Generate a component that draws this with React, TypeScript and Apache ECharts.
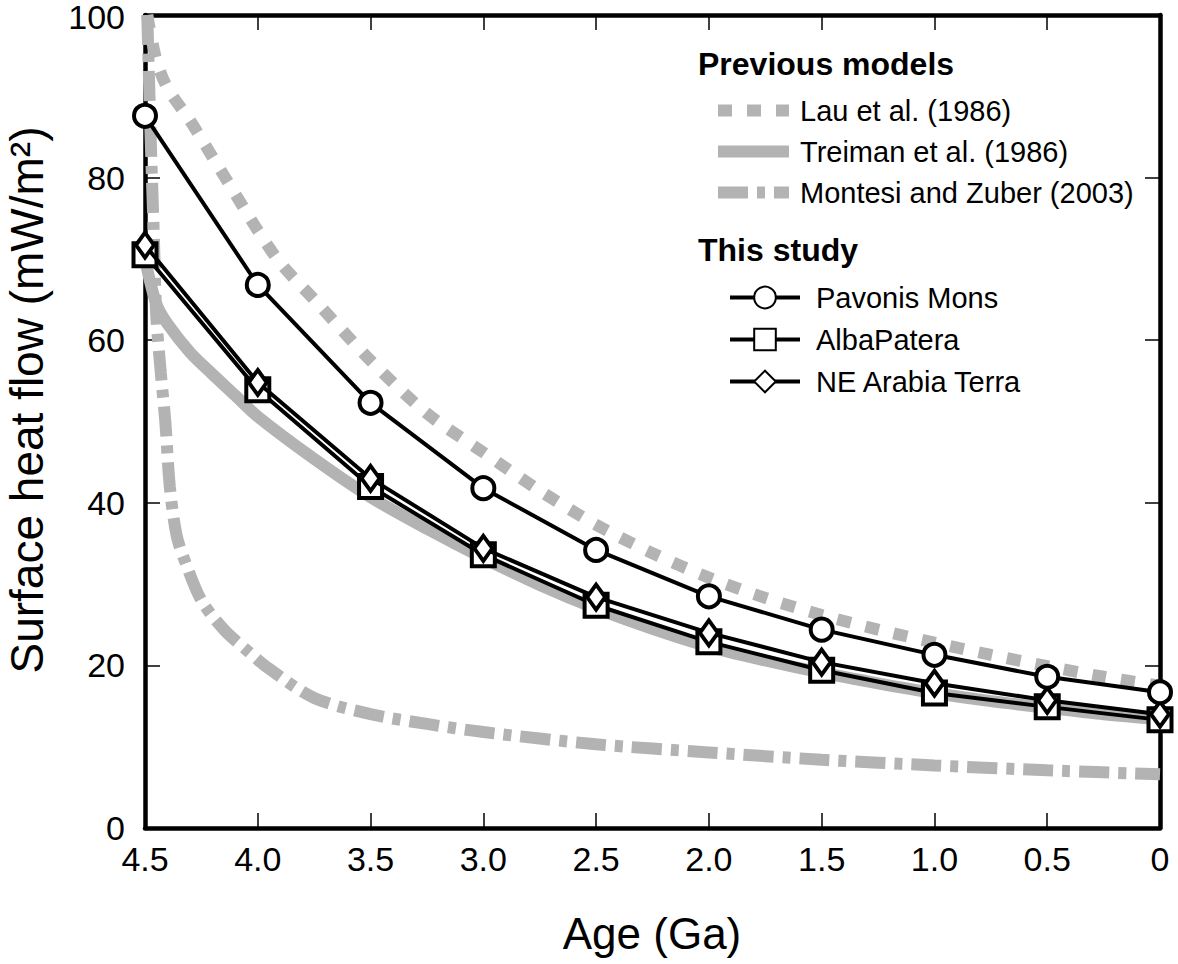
import React, { useEffect, useRef } from "react";
import * as echarts from "echarts";

// ---- data ----
const AGES = [4.5, 4.0, 3.5, 3.0, 2.5, 2.0, 1.5, 1.0, 0.5, 0];
const PAVONIS = [87.6, 66.8, 52.3, 41.8, 34.2, 28.5, 24.4, 21.3, 18.6, 16.7];
const ALBA = [70.5, 53.9, 42.0, 33.6, 27.4, 22.9, 19.4, 16.6, 14.9, 13.3];
const NE_ARABIA = [71.7, 54.8, 43.0, 34.4, 28.4, 24.0, 20.4, 17.8, 15.7, 14.0];

const LAU_AGES = [4.49, 4.45, 4.4, 4.3, 4.2, 4.1, 4.0, 3.9, 3.75, 3.5, 3.25, 3.0, 2.75, 2.5, 2.25, 2.0, 1.75, 1.5, 1.25, 1.0, 0.75, 0.5, 0.25, 0];
const LAU_VALUES = [100, 94.5, 91, 87, 82.5, 78, 73.5, 69.5, 65, 57.5, 51, 46.2, 41.5, 37.3, 33.8, 30.8, 28.3, 26.2, 24.4, 22.8, 21.3, 19.9, 18.6, 17.5];

const TREIMAN_AGES = [4.5, 4.45, 4.4, 4.3, 4.2, 4.1, 4.0, 3.75, 3.5, 3.25, 3.0, 2.75, 2.5, 2.25, 2.0, 1.75, 1.5, 1.25, 1.0, 0.75, 0.5, 0.25, 0];
const TREIMAN_VALUES = [70, 64.5, 62, 58.5, 55.8, 53.2, 50.6, 45.4, 40.7, 36.8, 33.2, 29.9, 27, 24.5, 22.3, 20.6, 19.1, 17.8, 16.6, 15.6, 14.8, 14.0, 13.4];

const MONTESI_AGES = [4.49, 4.475, 4.46, 4.45, 4.43, 4.41, 4.39, 4.36, 4.32, 4.25, 4.15, 4.05, 3.95, 3.75, 3.5, 3.25, 3.0, 2.5, 2.0, 1.5, 1.0, 0.5, 0];
const MONTESI_VALUES = [100, 85, 72, 63, 56, 50, 42, 36, 32.6, 28, 24.4, 21.9, 19.6, 16.0, 14.0, 12.8, 11.8, 10.3, 9.3, 8.4, 7.7, 7.1, 6.6];

const Y_TICKS = [0, 20, 40, 60, 80, 100];

const FONT = "'Liberation Sans', Arial, Helvetica, sans-serif";
const GRAY = "#b3b3b3";

const pairs = (xs: number[], ys: number[]) => xs.map((x, i) => [x, ys[i]]);

export default function App() {
  const ref = useRef<HTMLDivElement>(null);

  useEffect(() => {
    if (!ref.current) return;
    const chart = echarts.init(ref.current, undefined, { renderer: "svg" });

    const axisCommon = {
      type: "value" as const,
      splitLine: { show: false },
      axisLine: { show: true, onZero: false, lineStyle: { color: "#000", width: 4.5 } },
    };

    const blackLine = { color: "#000", width: 4 };
    const markerStyle = { color: "#fff", borderColor: "#000", borderWidth: 4 };
    const hiddenSymbol = { opacity: 0, color: "transparent", borderWidth: 0 };
    const yMax = Y_TICKS[Y_TICKS.length - 1];

    chart.setOption({
      animation: false,
      backgroundColor: "#fff",
      textStyle: { fontFamily: FONT },
      grid: { left: 145, right: 18, top: 15, bottom: 136, containLabel: false, outerBoundsMode: "none" },
      xAxis: [
        {
          ...axisCommon,
          position: "bottom",
          min: 0,
          max: 4.5,
          interval: 0.5,
          inverse: true,
          axisTick: { show: true, inside: true, length: 15, lineStyle: { color: "#000", width: 1.5 } },
          axisLabel: {
            show: true,
            margin: 14,
            fontSize: 34,
            color: "#000",
            fontFamily: FONT,
            formatter: (v: number) => (v === 0 ? "0" : v.toFixed(1)),
          },
        },
        {
          ...axisCommon,
          position: "top",
          min: 0,
          max: 4.5,
          interval: 0.5,
          inverse: true,
          axisTick: { show: true, inside: true, length: 15, lineStyle: { color: "#000", width: 1.5 } },
          axisLabel: { show: false },
        },
      ],
      yAxis: [
        {
          ...axisCommon,
          position: "left",
          min: Y_TICKS[0],
          max: yMax,
          interval: 20,
          axisTick: { show: true, inside: true, length: 15, lineStyle: { color: "#000", width: 1.5 } },
          axisLabel: {
            show: true,
            margin: 20,
            fontSize: 34,
            lineHeight: 28,
            color: "#000",
            fontFamily: FONT,
            formatter: (v: number) => (v === yMax ? `{top|${v}}` : `${v}`),
            rich: {
              top: { fontSize: 34, lineHeight: 28, fontFamily: FONT, color: "#000", padding: [4, 0, 0, 0] },
            },
          },
        },
        {
          ...axisCommon,
          position: "right",
          min: Y_TICKS[0],
          max: yMax,
          interval: 20,
          axisTick: { show: true, inside: true, length: 15, lineStyle: { color: "#000", width: 1.5 } },
          axisLabel: { show: false },
        },
      ],
      legend: [
        {
          left: 712,
          top: 96,
          padding: 0,
          orient: "vertical",
          itemWidth: 71,
          itemHeight: 22,
          itemGap: 12,
          textStyle: { fontSize: 29, color: "#000", fontFamily: FONT, padding: [0, 0, 0, 6] },
          data: [
            { name: "Lau et al. (1986)", lineStyle: { width: 12 }, itemStyle: hiddenSymbol },
            { name: "Treiman et al. (1986)", lineStyle: { width: 12 }, itemStyle: hiddenSymbol },
            { name: "Montesi and Zuber (2003)", lineStyle: { width: 12 }, itemStyle: hiddenSymbol },
          ],
          selectedMode: false,
        },
        {
          left: 728,
          top: 283,
          padding: 0,
          orient: "vertical",
          itemWidth: 70,
          itemHeight: 27,
          itemGap: 13,
          textStyle: { fontSize: 29, color: "#000", fontFamily: FONT, padding: [0, 0, 0, 11] },
          data: [
            { name: "Pavonis Mons", lineStyle: { width: 4 } },
            { name: "AlbaPatera", lineStyle: { width: 4 } },
            { name: "NE Arabia Terra", lineStyle: { width: 4 } },
          ],
          selectedMode: false,
        },
      ],
      graphic: [
        {
          type: "text",
          left: 698,
          top: 48,
          style: { text: "Previous models", font: `bold 32px ${FONT}`, fill: "#000" },
        },
        {
          type: "text",
          left: 698,
          top: 234,
          style: { text: "This study", font: `bold 32px ${FONT}`, fill: "#000" },
        },
        {
          type: "text",
          x: 652,
          y: 933,
          style: {
            text: "Age (Ga)",
            font: `44px ${FONT}`,
            fill: "#000",
            align: "center",
            verticalAlign: "middle",
          },
        },
        {
          type: "text",
          x: 27,
          y: 400,
          rotation: Math.PI / 2,
          style: {
            text: "Surface heat flow (mW/m²)",
            font: `46px ${FONT}`,
            fill: "#000",
            align: "center",
            verticalAlign: "middle",
          },
        },
      ],
      series: [
        {
          name: "Montesi and Zuber (2003)",
          type: "line",
          data: pairs(MONTESI_AGES, MONTESI_VALUES),
          symbol: "none",
          smooth: 0.3,
          lineStyle: { color: GRAY, width: 12, type: [30, 9, 8, 9] },
          itemStyle: { color: GRAY },
          z: 1,
        },
        {
          name: "Treiman et al. (1986)",
          type: "line",
          data: pairs(TREIMAN_AGES, TREIMAN_VALUES),
          symbol: "none",
          smooth: 0.3,
          lineStyle: { color: GRAY, width: 12, type: "solid" },
          itemStyle: { color: GRAY },
          z: 1,
        },
        {
          name: "Lau et al. (1986)",
          type: "line",
          data: pairs(LAU_AGES, LAU_VALUES),
          symbol: "none",
          smooth: 0.3,
          lineStyle: { color: GRAY, width: 12, type: [14, 15] },
          itemStyle: { color: GRAY },
          z: 1,
        },
        {
          name: "AlbaPatera",
          type: "line",
          data: pairs(AGES, ALBA),
          symbol: "rect",
          symbolSize: 23,
          lineStyle: blackLine,
          itemStyle: markerStyle,
          z: 3,
        },
        {
          name: "NE Arabia Terra",
          type: "line",
          data: pairs(AGES, NE_ARABIA),
          symbol: "diamond",
          symbolSize: [18, 25],
          lineStyle: blackLine,
          itemStyle: markerStyle,
          z: 4,
        },
        {
          name: "Pavonis Mons",
          type: "line",
          data: pairs(AGES, PAVONIS),
          symbol: "circle",
          symbolSize: 22,
          lineStyle: blackLine,
          itemStyle: markerStyle,
          z: 5,
        },
      ],
    });

    return () => chart.dispose();
  }, []);

  return <div ref={ref} style={{ width: 1178, height: 964, position: "absolute", left: 0, top: 0 }} />;
}
